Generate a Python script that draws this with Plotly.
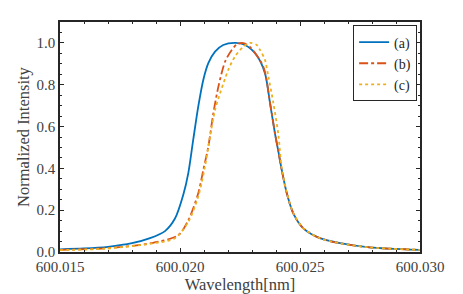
import plotly.graph_objects as go

# ---- data ----
wl_a = [600.0150, 600.0160, 600.0170, 600.0180, 600.01875, 600.019375, 600.01979, 600.02014,
        600.02035, 600.02055, 600.02076, 600.02097, 600.02118, 600.02146, 600.0218,
        600.02233, 600.02271, 600.0232, 600.02354, 600.02375, 600.02396, 600.0241,
        600.02424, 600.02445, 600.02472, 600.02514, 600.02583, 600.02667, 600.0279, 600.0300]
int_a = [0.013, 0.017, 0.025, 0.042, 0.066, 0.100, 0.160, 0.275,
         0.380, 0.536, 0.695, 0.823, 0.903, 0.958, 0.990,
         1.000, 0.990, 0.940, 0.855, 0.713, 0.565, 0.480,
         0.392, 0.281, 0.185, 0.113, 0.066, 0.042, 0.022, 0.010]

wl_b = [600.0150, 600.0169, 600.0188, 600.01993, 600.02035, 600.02076, 600.02097, 600.02118,
        600.02139, 600.0216, 600.02188, 600.02215, 600.02239, 600.02264, 600.0229,
        600.02347, 600.02375, 600.02396, 600.0241, 600.02424, 600.02445,
        600.02472, 600.02514, 600.02583, 600.02667, 600.0279, 600.0300]
int_b = [0.010, 0.018, 0.042, 0.081, 0.153, 0.281, 0.392, 0.504,
         0.664, 0.791, 0.911, 0.965, 0.995, 0.999, 0.982,
         0.887, 0.713, 0.565, 0.480, 0.392, 0.281,
         0.185, 0.113, 0.066, 0.042, 0.022, 0.010]

wl_c = [600.0150, 600.0169, 600.0188, 600.01979, 600.02035, 600.02076, 600.02104, 600.02125,
        600.02146, 600.02167, 600.02188, 600.02201, 600.02229, 600.02264, 600.02292,
        600.0232, 600.02333, 600.02354, 600.02368, 600.02389, 600.0241, 600.02424,
        600.02445, 600.02472, 600.02514, 600.02583, 600.02667, 600.0279, 600.0300]
int_c = [0.009, 0.016, 0.040, 0.066, 0.145, 0.265, 0.408, 0.552,
         0.679, 0.759, 0.830, 0.871, 0.935, 0.982, 1.000,
         0.990, 0.967, 0.919, 0.840, 0.713, 0.560, 0.400,
         0.285, 0.187, 0.113, 0.066, 0.042, 0.022, 0.010]

labels = ["(a)", "(b)", "(c)"]
x_ticks = [600.015, 600.020, 600.025, 600.030]
y_ticks = [0.0, 0.2, 0.4, 0.6, 0.8, 1.0]

FONT = "Liberation Serif"
AX = "#262626"
TXT = "#404040"

fig = go.Figure()
fig.add_trace(go.Scatter(x=wl_a, y=int_a, name=labels[0], mode="lines",
                         line=dict(color="#0072BD", width=1.8, shape="spline", smoothing=0.8)))
fig.add_trace(go.Scatter(x=wl_b, y=int_b, name=labels[1], mode="lines",
                         line=dict(color="#D95319", width=1.8, dash="dashdot", shape="spline", smoothing=0.8)))
fig.add_trace(go.Scatter(x=wl_c, y=int_c, name=labels[2], mode="lines",
                         line=dict(color="#EDB120", width=1.8, dash="dot", shape="spline", smoothing=0.8)))

axis_common = dict(showline=True, linecolor=AX, linewidth=1.5, mirror="ticks",
                   ticks="inside", ticklen=4, tickwidth=1, tickcolor=AX,
                   showgrid=False, zeroline=False,
                   tickfont=dict(family=FONT, size=15, color=TXT))

fig.update_xaxes(range=[600.015, 600.030], tickvals=x_ticks,
                 ticktext=[f"{v:.3f}" for v in x_ticks],
                 minor=dict(dtick=0.001, tick0=600.015, ticks="inside", ticklen=2.5, tickcolor=AX, showgrid=False),
                 title=dict(text="Wavelength[nm]", font=dict(family=FONT, size=16.5, color=TXT)),
                 automargin=False,
                 **axis_common)
fig.update_yaxes(range=[0, 1.1], tickvals=y_ticks,
                 ticktext=[f"{v:.1f}" for v in y_ticks],
                 minor=dict(dtick=0.05, tick0=0, ticks="inside", ticklen=2.5, tickcolor=AX, showgrid=False),
                 title=dict(text="Normalized Intensity", font=dict(family=FONT, size=16.5, color=TXT), standoff=3),
                 automargin=True,
                 **axis_common)

fig.update_layout(
    width=463, height=294,
    margin=dict(l=60, r=43, t=22, b=42),
    paper_bgcolor="white", plot_bgcolor="white",
    showlegend=True,
    legend=dict(x=0.992, y=0.985, xanchor="right", yanchor="top",
                bgcolor="white", bordercolor="#262626", borderwidth=1,
                font=dict(family=FONT, size=14, color="#262626"),
                tracegroupgap=0, itemwidth=30),
)

fig.write_html("out.html", config={"displayModeBar": False},
               post_script="document.body.style.margin='0';")
